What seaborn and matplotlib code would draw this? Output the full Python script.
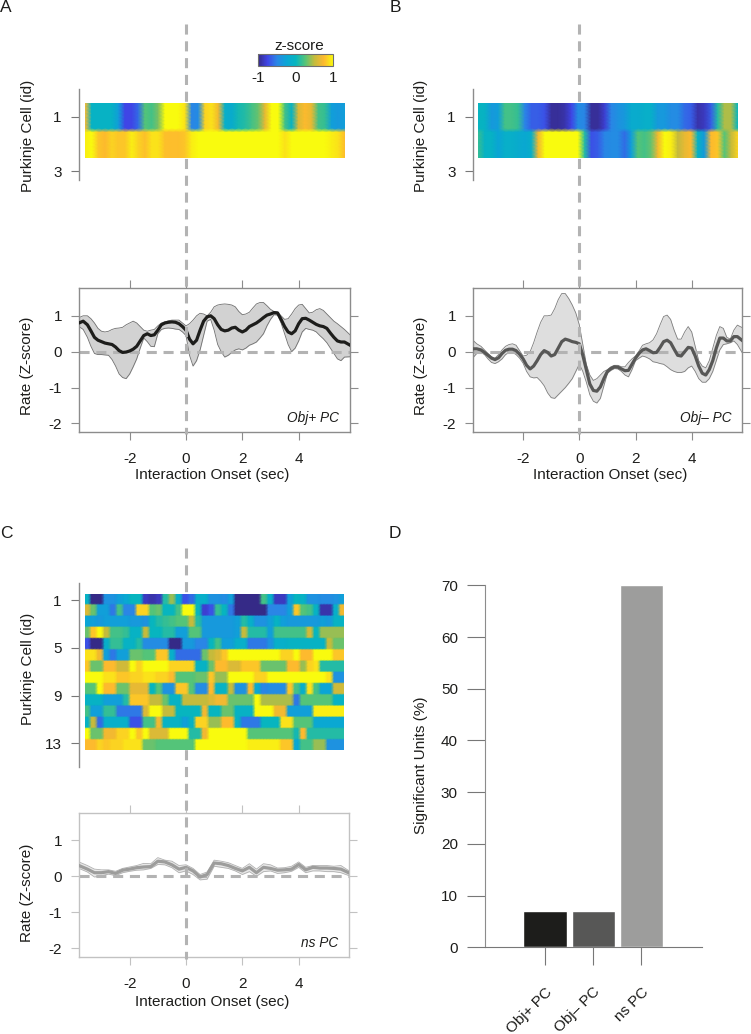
import numpy as np
import pandas as pd
import seaborn as sns
import matplotlib
matplotlib.use('Agg')
import matplotlib.pyplot as plt
from matplotlib.cm import ScalarMappable
from matplotlib.colors import LinearSegmentedColormap, Normalize

# Values
heat_a = [
    [.75,-.05,-.05,-.05,-.05,-.3,-.75,-.75,-.6,.25,.2,.35,1,1,1,.9,-.5,-.45,.85,.9,.7,-.1,-.15,.05,.1,.2,.3,.65,1,1,.2,-.05,.6,.75,.65,.2,.15,-.3,-.35,-.3],
    [.95,1,.8,.75,.85,.8,.8,.95,.85,.78,.9,.9,.78,.77,.77,.8,.95,1,1,1,1,1,1,1,1,1,1,1,1,1,.9,1,1,1,1,1,1,.95,.9,.75],
]
heat_b = [
    [0,-.05,-.35,-.3,.2,.2,.15,-.5,-.65,-.65,-.7,-.95,-.95,-.9,-.75,-.45,-.5,-.95,-.95,-.8,-.5,-.4,-.35,-.15,-.15,-.1,-.1,-.35,-.35,-.45,-.45,-.6,-.65,-.9,-.85,-.65,.1,.45,.45,0],
    [.15,-.05,-.05,-.25,-.1,-.1,-.15,-.2,-.1,.7,1,1,1,1,1,1,.1,-.7,-.65,-.5,-.45,-.45,-.6,-.3,.25,.2,.3,.7,1,.95,.5,.65,.75,-.05,-.35,.75,.8,.25,.5,.85],
]
heat_c = [
    [-.05,-1,-1,-.4,-.4,-.3,-.2,0,0,-.85,-.9,-.85,.1,.4,-.1,-.7,-.6,-.1,-.1,-.4,-.4,-.45,-.3,-1,-1,-1,-1,.2,-.1,-.85,-.85,-.3,0,-.05,-.4,-.4,-.45,-.45,-.4,-.3],
    [.6,.3,-.3,-.3,-.55,.2,-.5,-.5,.85,.85,.25,.3,0,0,.2,1,1,0,-.8,-.7,.15,0,-.55,-1,-1,-1,-1,-1,-.5,-.5,-.5,-.3,.8,.25,.2,-.05,-.9,-.9,-.1,.7],
    [-.25,-.3,-.35,-.3,-.3,-.3,-.3,-.35,-.35,-.4,0,.1,.15,.2,.25,.25,.5,.1,-.35,-.35,-.35,-.35,-.35,-.3,.1,-.1,-.4,-.4,-.3,-.05,-.3,-.35,-.35,-.35,-.35,-.35,-.3,-.35,-.05,-.05],
    [.3,.8,1,.5,.2,.2,.15,-.05,-.05,.5,0,0,.1,.1,-.3,-.3,.25,.25,-.35,-.35,-.35,-.35,-.35,-.3,.5,.1,.1,.1,-.3,.2,.2,.2,.2,.2,.55,0,.4,.4,.4,.4],
    [-.7,-1,-1,-.1,.15,.15,-.05,-.05,.1,-.45,-.45,-.45,-.45,-1,-1,-.35,-.35,-.5,-.5,0,.2,-.3,-.3,-.1,-.1,-.55,-.55,-.55,-.4,-.1,-.1,-.05,-.05,-.05,-.05,-.05,-.05,.5,.3,.3],
    [.9,.9,.7,-.3,-.55,-.3,-.3,.3,.3,.25,.25,.8,.8,-.1,-.6,-.6,-.6,-.6,.3,.5,.6,.8,1,1,1,1,1,1,1,1,.85,.85,1,.75,.75,1,1,1,.8,.8],
    [.8,.3,.3,.75,.75,.55,.55,1,.85,1,1,1,1,.85,.85,.85,.85,-.05,-.05,.3,.75,.75,.6,.6,.8,.8,.8,.3,.3,.3,.3,.75,.75,.4,.85,.9,.1,.1,.1,.1],
    [1,1,1,.9,.9,.8,.8,.85,.85,.9,.9,.85,.85,.75,.25,.25,.25,.3,.3,.8,.4,.4,1,1,1,1,.85,.85,1,1,1,1,1,1,1,1,1,.9,-.4,-.4],
    [.25,.25,1,.75,.75,.3,.3,.65,.65,.65,0,.25,-.4,-.4,.8,.8,.25,-.45,-.45,.75,-.05,-.05,.5,-.4,-.4,.75,-.2,-.5,-.45,-.45,-.45,.8,.2,-.1,.9,.2,-.25,-.25,.55,.55],
    [-.05,-.05,-.05,-.3,-.3,-.3,.1,.8,.8,.8,.5,.5,.3,-.05,-.05,.5,.5,.5,.5,.6,.7,.7,.3,.3,.3,.3,1,.45,.45,.45,.45,.45,-.55,.25,.25,.25,.25,.25,-.05,-.05],
    [.2,-.3,-.3,.15,.15,-.55,-.55,-.55,-.55,.6,1,1,.5,.5,0,0,0,0,.7,0,0,.3,.3,-.05,-.05,-.05,1,1,1,.7,.7,-.3,-.3,-.3,-.3,.95,.95,.95,.95,.95],
    [-.05,.5,-.6,-.1,-.1,-.1,-.1,-.7,-.7,.2,.2,.7,-.05,-.05,-.05,-.3,-.05,.85,.85,.4,.4,.75,.75,-.05,-.55,-.55,-.55,0,0,0,.9,.9,.25,.25,.25,-.2,-.2,-.2,-.2,-.2],
    [1,.3,.3,.7,.7,.85,.85,1,.8,1,.6,.6,.6,1,1,1,.1,.1,.7,1,1,1,1,1,1,.25,.25,.25,.25,.25,.25,.25,.05,.75,.1,.1,.1,.1,.1,.1],
    [.75,.75,.85,.8,.85,.85,.9,.9,.9,.3,.3,.25,.25,.25,.25,.25,.25,1,1,1,1,1,1,1,1,.95,.95,.95,.95,.95,.8,.8,-.2,.2,.2,.4,.4,-.4,-.4,-.4],
]

time_fine = [-3.8,-3.65,-3.5,-3.375,-3.25,-3.125,-3,-2.875,-2.75,-2.625,-2.5,-2.375,-2.25,-2.125,-2,-1.875,-1.75,-1.625,-1.5,-1.375,-1.25,-1.125,-1,-.875,-.75,-.625,-.5,-.375,-.25,-.125,0,
             .125,.25,.375,.5,.625,.75,.875,1,1.125,1.25,1.375,1.5,1.625,1.75,1.875,2,2.125,2.25,2.375,2.5,2.625,2.75,2.875,3,3.125,3.25,3.375,3.5,3.625,3.75,3.875,4,4.125,4.25,4.375,4.5,4.625,4.75,4.875,5,5.125,5.25,5.375,5.5,5.625,5.85]
time_coarse = [-3.8,-3.5,-3.25,-3,-2.75,-2.5,-2.25,-2,-1.75,-1.5,-1.25,-1,-.75,-.5,-.25,0,.25,.5,.75,1,1.25,1.5,1.75,2,2.25,2.5,2.75,3,3.25,3.5,3.75,4,4.25,4.5,4.75,5,5.25,5.5,5.85]

mean_a = [.8,.85,.75,.58,.4,.32,.28,.24,.22,.2,.13,.03,-.02,-.01,.02,.07,.15,.3,.45,.5,.45,.47,.6,.75,.8,.82,.83,.82,.78,.7,.6,
          .35,.22,.32,.6,.85,.97,1,.92,.75,.62,.58,.6,.66,.68,.6,.55,.6,.7,.75,.8,.87,.95,1.02,1.05,1.09,1.08,.9,.7,.55,.5,.58,.78,.92,.93,.88,.82,.76,.72,.7,.65,.52,.4,.3,.27,.27,.17]
upper_a = [.95,1,1,.92,.8,.65,.57,.55,.57,.62,.65,.66,.68,.75,.8,.85,.8,.7,.6,.57,.6,.62,.72,.8,.83,.86,.88,.88,.88,.8,.72,
           .78,.88,1,1.07,1.05,1,1.1,1.25,1.3,1.32,1.33,1.32,1.3,1.25,1.12,1.03,1.05,1.1,1.22,1.33,1.37,1.37,1.28,1.18,1.12,1.1,1,.9,.92,1.05,1.2,1.3,1.32,1.2,1.08,1.1,1.17,1.2,1.15,1.05,.95,.85,.78,.7,.62,.45]
lower_a = [.7,.62,.4,.15,-.05,-.08,-.08,-.09,-.1,-.22,-.4,-.62,-.72,-.75,-.62,-.42,-.2,.1,.38,.28,.15,.14,.5,.62,.65,.66,.65,.63,.62,.55,.45,
           -.1,-.4,-.25,.05,.45,.85,.9,.6,.2,0,-.15,-.1,-.02,.05,.08,.05,.1,.18,.22,.27,.38,.5,.72,.9,1.03,1.02,.8,.5,.2,0,.1,.3,.55,.65,.62,.6,.55,.45,.36,.25,.1,-.05,-.2,-.25,-.15,-.14]

mean_b = [.08,.08,.05,-.02,-.1,-.18,-.22,-.17,-.05,.04,.07,.07,.03,-.07,-.2,-.38,-.48,-.4,-.25,-.08,.03,-.02,-.12,-.08,.1,.28,.35,.32,.28,.26,.22,
          -.1,-.5,-.9,-1.08,-1.1,-.98,-.75,-.55,-.47,-.42,-.43,-.48,-.53,-.52,-.35,-.18,-.05,.05,.08,.03,-.03,-.02,.12,.28,.32,.25,.07,-.1,-.12,0,.12,.1,-.12,-.4,-.6,-.65,-.5,-.25,.1,.38,.38,.3,.3,.42,.42,.28]
upper_b = [.33,.22,.15,.05,-.05,-.14,-.18,-.08,.05,.15,.2,.22,.18,.03,-.12,-.1,0,.25,.55,.82,1,1,1.02,1.2,1.45,1.62,1.62,1.48,1.3,1.08,.75,
           .2,-.35,-.65,-.8,-.75,-.65,-.55,-.5,-.42,-.38,-.38,-.42,-.42,-.3,-.2,-.12,.02,.18,.22,.25,.33,.5,.75,.98,1.02,.9,.6,.35,.35,.55,.7,.55,.15,-.25,-.4,-.45,-.25,.1,.45,.7,.65,.4,.35,.6,.74,.65]
lower_b = [-.18,-.05,-.02,-.08,-.2,-.3,-.33,-.28,-.2,-.08,-.02,-.02,-.08,-.18,-.32,-.55,-.7,-.73,-.72,-.82,-.95,-1.15,-1.28,-1.3,-1.2,-1.1,-1,-.88,-.75,-.55,-.35,
           -.55,-.85,-1.2,-1.38,-1.43,-1.3,-.95,-.6,-.52,-.47,-.48,-.55,-.65,-.7,-.5,-.25,-.18,-.12,-.15,-.2,-.28,-.3,-.33,-.35,-.42,-.5,-.55,-.58,-.58,-.55,-.45,-.4,-.55,-.75,-.85,-.85,-.75,-.55,-.25,.05,.2,.22,.25,.3,.2,-.1]

mean_c = [.3,.2,.1,.1,.13,.08,.17,.2,.24,.26,.27,.42,.4,.32,.2,.25,.15,-.02,.05,.37,.35,.3,.22,.15,.25,.1,.25,.22,.17,.18,.2,.33,.18,.25,.23,.23,.22,.2,.07]
upper_c = [.4,.3,.2,.18,.18,.14,.22,.26,.3,.36,.35,.52,.45,.42,.3,.32,.22,.05,.12,.45,.42,.38,.3,.22,.35,.2,.35,.32,.23,.24,.28,.4,.25,.3,.3,.3,.28,.3,.12]
lower_c = [.22,.12,-.02,.02,.06,.02,.1,.14,.17,.18,.22,.33,.32,.24,.1,.15,.05,-.1,-.08,.28,.25,.22,.15,.05,.13,0,.13,.15,.08,.1,.14,.25,.1,.15,.15,.13,.13,.1,0]

bar_names = ['Obj+ PC', 'Obj\u2013 PC', 'ns PC']
bar_values = [7.1, 7.1, 70]

sns.set_style('white')
plt.rcParams['font.family'] = ['Liberation Sans', 'DejaVu Sans']
plt.rcParams['font.size'] = 11
plt.rcParams['axes.unicode_minus'] = False

WIDTH, HEIGHT = 751, 1034
parula = LinearSegmentedColormap.from_list('parula', [
    (0, '#352a87'), (.125, '#3f45e6'), (.25, '#2a86e6'), (.375, '#0ba5d6'), (.5, '#06b5c0'),
    (.625, '#52c47a'), (.75, '#c4bb3c'), (.875, '#fdb82f'), (1, '#f9fb0e')])

TEXT = '#1d1d1b'
fig = plt.figure(figsize=(WIDTH / 100, HEIGHT / 100), dpi=100)


def add_axes(left, top, right, bottom, **kwargs):
    # rectangle given in picture pixels
    return fig.add_axes([left / WIDTH, 1 - bottom / HEIGHT, (right - left) / WIDTH, (bottom - top) / HEIGHT], **kwargs)


def label(x, y, text, **kwargs):
    fig.text(x / WIDTH, 1 - y / HEIGHT, text, ha='center', va='center', color=TEXT, **kwargs)


def draw_heat(left, top, right, bottom, rows, column_repeat):
    ax = add_axes(left, top, right, bottom, zorder=3)
    # repeats keep the rows flat with a short blend at their edges
    cells = np.repeat(np.repeat(np.array(rows), column_repeat, axis=1), 8, axis=0)
    sns.heatmap(cells, ax=ax, cmap=parula, vmin=-1, vmax=1, cbar=False,
                xticklabels=False, yticklabels=False, shading='gouraud')
    ax.set_xlim(0, cells.shape[1] - 1)
    ax.set_ylim(cells.shape[0] - 1, 0)
    ax.axis('off')


def draw_rail(left, top, bottom, ylim, ticks):
    ax = add_axes(left, top, left + 10, bottom, zorder=4)
    ax.patch.set_alpha(0)
    ax.set_ylim(*ylim)
    ax.set_yticks(ticks)
    ax.set_xticks([])
    ax.tick_params(axis='y', left=True, length=5.5, width=.8, color='#777777', labelcolor=TEXT, pad=7, labelsize=11)
    sns.despine(ax=ax, right=True, top=True, bottom=True)
    ax.spines['left'].set_color('#8c8c8c')
    ax.spines['left'].set_linewidth(1)


def draw_rate(left, top, right, bottom, x0, xscale, y0, yscale, time, mean, upper, lower, line_color, fill, edge, frame, name):
    ax = add_axes(left, top, right, bottom, zorder=1)
    frame_df = pd.DataFrame({'time': time, 'rate': mean})
    ax.fill_between(time, lower, upper, color=fill, lw=0)
    ax.plot(time, upper, color=edge, lw=.6)
    ax.plot(time, lower, color=edge, lw=.6)
    ax.axhline(0, color='#b3b3b3', lw=2.2, dashes=(3.3, 2.2), zorder=2.5)
    sns.lineplot(data=frame_df, x='time', y='rate', ax=ax, color=line_color, lw=2.3, estimator=None, zorder=3,
                 solid_joinstyle='round')
    # the onset marker runs up past the axes, behind the heatmap
    ax.plot([0, 0], [(y0 - 24) / yscale if top < 400 else (y0 - 548) / yscale, (y0 - bottom - 2) / yscale],
            color='#b3b3b3', lw=2.2, dashes=(3.3, 2.2), clip_on=False, zorder=5)
    ax.set_xlim((left - x0) / xscale, (right - x0) / xscale)
    ax.set_ylim((y0 - bottom) / yscale, (y0 - top) / yscale)
    ax.set_xticks([-2, 0, 2, 4])
    ax.set_yticks([-2, -1, 0, 1])
    ax.set(xlabel='', ylabel='')
    ax.tick_params(top=True, right=True, left=True, bottom=True, length=5.8, width=.8, color=frame,
                   labelcolor=TEXT, labelsize=11)
    ax.tick_params(axis='x', pad=8.6)
    ax.tick_params(axis='y', pad=6.5)
    for spine in ax.spines.values():
        spine.set_color(frame)
        spine.set_linewidth(1)
    ax.text(5.42, -1.85, name, ha='right', va='center', style='italic', fontsize=9.8, color=TEXT)


# Panel A
draw_heat(85, 103, 345, 158, heat_a, 1)
draw_rail(79, 89, 180, (3.33, -.02), [1, 3])
draw_rate(79.3, 288.3, 350, 432.3, 186, 28.17, 351.7, 35.9, time_fine, mean_a, upper_a, lower_a,
          '#1d1d1b', '#d2d2d2', '#6f6f6f', '#8c8c8c', 'Obj+ PC')
# Panel B
draw_heat(478.3, 103, 737.7, 158, heat_b, 1)
draw_rail(473, 89, 180, (3.33, -.02), [1, 3])
draw_rate(473, 288.3, 742.3, 432.3, 579.3, 28.1, 351.7, 35.9, time_fine, mean_b, upper_b, lower_b,
          '#575756', '#dedede', '#7d7d7d', '#8c8c8c', 'Obj\u2013 PC')
# Panel C
draw_heat(85, 594, 344, 750, heat_c, 2)
draw_rail(79, 583, 767, (15.0, -.45), [1, 5, 9, 13])
draw_rate(79, 813.3, 348.7, 956.7, 186, 28.17, 876.3, 35.9, time_coarse, mean_c, upper_c, lower_c,
          '#9d9d9c', '#e8e8e8', '#b0b0b0', '#c2c2c2', 'ns PC')

# Colour key
key_ax = add_axes(258, 54, 333.3, 65.7, zorder=4)
key = fig.colorbar(ScalarMappable(Normalize(-1, 1), parula), cax=key_ax, orientation='horizontal')
key.set_ticks([-1, 0, 1], labels=['-1', '0', '1'])
key.ax.tick_params(length=0, pad=4, labelsize=11, labelcolor=TEXT)
key.outline.set_edgecolor('#6f6f6f')
key.outline.set_linewidth(.8)
label(299, 46, 'z-score', fontsize=11)

# Panel D
bar_ax = add_axes(485, 585.3, 701.7, 947.3)
bars = pd.DataFrame({'group': bar_names, 'percent': bar_values})
sns.barplot(data=bars, x='group', y='percent', hue='group', ax=bar_ax, width=.9, saturation=1,
            palette=['#1d1d1b', '#575756', '#9d9d9c'], legend=False)
bar_ax.set_xlim(-1.245, 3.25)
bar_ax.set_ylim(0, 70)
bar_ax.set_yticks(range(0, 71, 10))
bar_ax.set(xlabel='', ylabel='')
bar_ax.set_xticks([0, 1, 2])
bar_ax.set_xticklabels(bar_names, rotation=45, ha='right', rotation_mode='anchor')
bar_ax.tick_params(left=True, bottom=True, length=13, width=.8, color='#777777', labelcolor=TEXT, labelsize=11)
bar_ax.tick_params(axis='x', pad=14)
bar_ax.tick_params(axis='y', pad=6.5)
sns.despine(ax=bar_ax)
bar_ax.spines['left'].set_color('#8c8c8c')
bar_ax.spines['bottom'].set_color('#777777')

# Axis titles and panel letters
label(28, 135.4, 'Purkinje Cell (id)', rotation=90)
label(421, 135.4, 'Purkinje Cell (id)', rotation=90)
label(28, 669, 'Purkinje Cell (id)', rotation=90)
label(27, 366, 'Rate (Z-score)', rotation=90)
label(421, 366, 'Rate (Z-score)', rotation=90)
label(27, 892.5, 'Rate (Z-score)', rotation=90)
label(211.7, 475, 'Interaction Onset (sec)')
label(610, 475, 'Interaction Onset (sec)')
label(211.7, 1001.7, 'Interaction Onset (sec)')
label(421, 765, 'Significant Units (%)', rotation=90)
for x, y, letter in [(6, 7, 'A'), (395, 7, 'B'), (6, 534, 'C'), (395, 534, 'D')]:
    label(x, y, letter, fontsize=12.5)

fig.savefig('out.png', dpi=100)
